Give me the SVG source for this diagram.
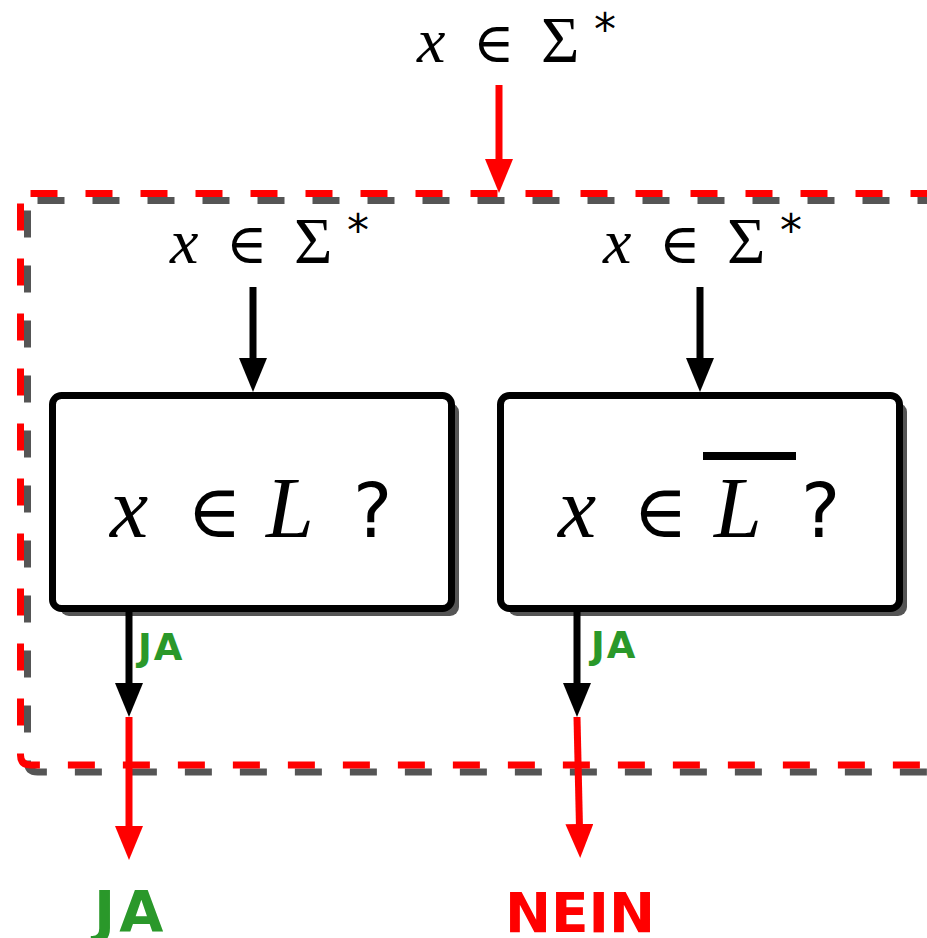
<svg xmlns="http://www.w3.org/2000/svg" width="927" height="938" viewBox="0 0 927 938">
<style>
.dash{fill:none;stroke-width:7;stroke-dasharray:27 28}
.dr{stroke:#ff0000}
.dg{stroke:#555555}
.box{fill:#ffffff;stroke:#000000;stroke-width:7}
.shadow{fill:#555555}
.lb{stroke:#000000;stroke-width:7;fill:none}
.lr{stroke:#ff0000;stroke-width:7;fill:none}
.m{font-family:"Liberation Serif","DejaVu Serif",serif;fill:#000}
.mi{font-style:italic}
.el{font-family:"DejaVu Serif",serif}
.st{font-family:"DejaVu Sans",sans-serif}
.q{font-family:"DejaVu Sans",sans-serif;fill:#000}
.ja{font-family:"DejaVu Sans",sans-serif;font-weight:bold;fill:#2a982a}
.nein{font-family:"DejaVu Sans",sans-serif;font-weight:bold;fill:#ff0000}
</style>
<defs>
<marker id="ab" markerUnits="userSpaceOnUse" viewBox="0 -14 34 28" markerWidth="34" markerHeight="28" refX="4" refY="0" orient="auto"><path d="M0,-14 L34,0 L0,14 z" fill="#000"/></marker>
<marker id="ar" markerUnits="userSpaceOnUse" viewBox="0 -14 34 28" markerWidth="34" markerHeight="28" refX="4" refY="0" orient="auto"><path d="M0,-14 L34,0 L0,14 z" fill="#ff0000"/></marker>
</defs>
<g id="frame">
<path class="dash dg" d="M37.5,200.5 H960"/>
<path class="dash dg" d="M27.5,210.5 V762 Q27.5,772 37.5,772 H960"/>
<path class="dash dr" d="M30.5,193.5 H960"/>
<path class="dash dr" d="M20.5,203.5 V755 Q20.5,765 30.5,765 H960"/>
</g>
<g id="input-top">
<text class="m" y="62"><tspan class="mi" x="417" font-size="64">x</tspan><tspan class="el" x="473" font-size="56">∈</tspan><tspan x="541" font-size="66">Σ</tspan><tspan class="st" x="594" y="45" font-size="44">*</tspan></text>
</g>
<g id="input-left">
<text class="m" y="263"><tspan class="mi" x="170" font-size="64">x</tspan><tspan class="el" x="226" font-size="56">∈</tspan><tspan x="294" font-size="66">Σ</tspan><tspan class="st" x="347" y="246" font-size="44">*</tspan></text>
</g>
<g id="input-right">
<text class="m" y="263"><tspan class="mi" x="603" font-size="64">x</tspan><tspan class="el" x="659" font-size="56">∈</tspan><tspan x="727" font-size="66">Σ</tspan><tspan class="st" x="780" y="246" font-size="44">*</tspan></text>
</g>
<g id="box-L">
<rect class="shadow" x="60" y="403" width="399" height="213" rx="9"/>
<rect class="box" x="52.5" y="395.5" width="399" height="213" rx="9"/>
<text class="m" y="537"><tspan class="mi" x="110" font-size="86">x</tspan><tspan class="el" x="187" font-size="74">∈</tspan><tspan class="mi" x="266" font-size="86">L</tspan><tspan class="q" x="353" font-size="74">?</tspan></text>
</g>
<g id="box-Lbar">
<rect class="shadow" x="508" y="403" width="399" height="213" rx="9"/>
<rect class="box" x="500.5" y="395.5" width="399" height="213" rx="9"/>
<text class="m" y="537"><tspan class="mi" x="558" font-size="86">x</tspan><tspan class="el" x="633" font-size="74">∈</tspan><tspan class="mi" x="714" font-size="86">L</tspan><tspan class="q" x="801" font-size="74">?</tspan></text>
<rect x="703" y="452" width="93" height="8" fill="#000"/>
</g>
<g id="connectors">
<line class="lr" x1="499" y1="85" x2="499" y2="163" marker-end="url(#ar)"/>
<line class="lb" x1="253" y1="287" x2="253" y2="362" marker-end="url(#ab)"/>
<line class="lb" x1="700" y1="287" x2="700" y2="362" marker-end="url(#ab)"/>
<line class="lb" x1="129" y1="610" x2="129" y2="687" marker-end="url(#ab)"/>
<line class="lr" x1="129" y1="717" x2="129" y2="830" marker-end="url(#ar)"/>
<line class="lb" x1="577" y1="610" x2="577" y2="687" marker-end="url(#ab)"/>
<line class="lr" x1="577" y1="717" x2="579.5" y2="828" marker-end="url(#ar)"/>
</g>
<g id="labels">
<text class="ja" x="138" y="660" font-size="37" letter-spacing="2">JA</text>
<text class="ja" x="591" y="658" font-size="37" letter-spacing="2">JA</text>
<text class="ja" x="94" y="932" font-size="57" letter-spacing="4">JA</text>
<text class="nein" x="505" y="932" font-size="55">NEIN</text>
</g>
</svg>
